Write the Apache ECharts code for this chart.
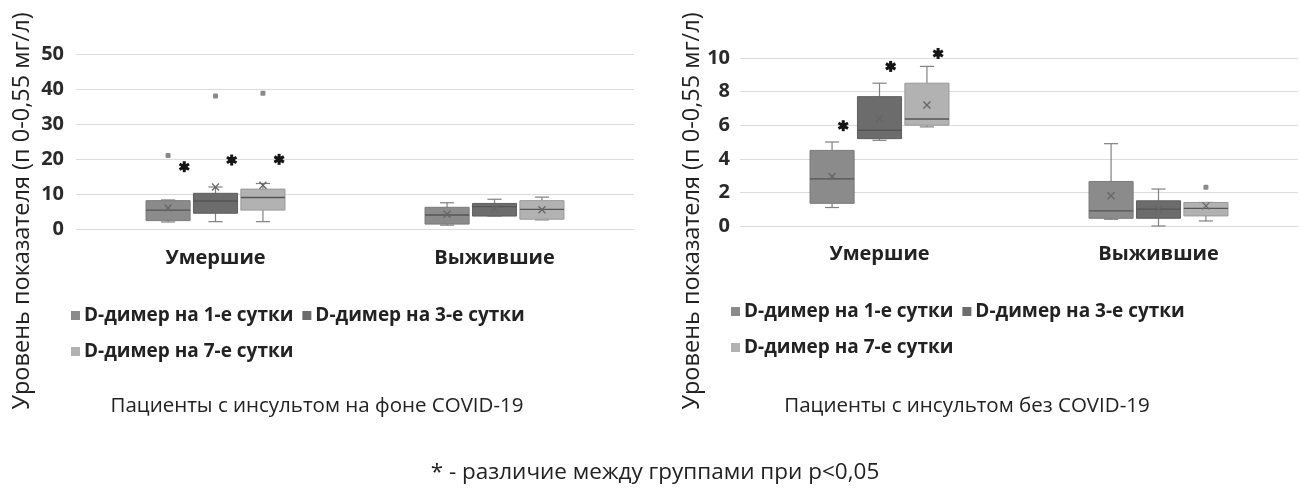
<!DOCTYPE html>
<html><head><meta charset="utf-8">
<script src="https://cdn.jsdelivr.net/npm/echarts@6/dist/echarts.min.js"></script>
<style>html,body{margin:0;padding:0;background:#fff}#c{width:1300px;height:492px}</style>
</head><body><div id="c"></div>
<script>
const categories = ['Умершие', 'Выжившие'];
const seriesNames = ['D-димер на 1-е сутки', 'D-димер на 3-е сутки', 'D-димер на 7-е сутки'];
const leftYTicks = [0, 10, 20, 30, 40, 50];
const rightYTicks = [0, 2, 4, 6, 8, 10];

// [min, Q1, median, Q3, max] per category (Умершие, Выжившие)
const covidDay1 = [[2.0, 2.4, 5.4, 8.1, 8.3], [1.1, 1.4, 4.0, 6.2, 7.5]];
const covidDay3 = [[2.1, 4.5, 8.0, 10.2, 12.0], [3.7, 3.7, 6.4, 7.3, 8.5]];
const covidDay7 = [[2.1, 5.4, 9.0, 11.4, 13.0], [2.6, 2.8, 5.6, 8.1, 9.1]];
const covidMeans = [[6.0, 4.2], [12.0, 5.8], [12.5, 5.5]];
const covidOutliers = [[0, 21.0, 0], [0, 38.0, 1], [0, 38.8, 2]]; // [category, value, day]
const covidStars = [[0, 17.8, 0], [0, 19.7, 1], [0, 19.9, 2]];

const nonCovidDay1 = [[1.1, 1.35, 2.8, 4.5, 5.0], [0.4, 0.46, 0.9, 2.65, 4.9]];
const nonCovidDay3 = [[5.1, 5.2, 5.7, 7.7, 8.5], [0.0, 0.46, 1.0, 1.5, 2.2]];
const nonCovidDay7 = [[5.9, 6.0, 6.37, 8.5, 9.5], [0.3, 0.6, 1.05, 1.4, 1.4]];
const nonCovidMeans = [[2.95, 1.8], [6.4, 1.0], [7.2, 1.2]];
const nonCovidOutliers = [[1, 2.3, 2]];
const nonCovidStars = [[0, 5.97, 0], [0, 9.5, 1], [0, 10.27, 2]];

const fills = ['#8b8b8b', '#6c6c6c', '#b2b2b2'];
const borders = ['#7a7a7a', '#5e5e5e', '#999999'];
const FONT = '"Open Sans", sans-serif';
const STEP = 0.17, BOXW = 0.158;

function boxSeries(day, boxes, means, gi) {
  const data = boxes.map((b, i) => [i].concat(b).concat([means[day][i]]));
  return {
    type: 'custom', name: seriesNames[day], xAxisIndex: gi, yAxisIndex: gi,
    itemStyle: { color: fills[day] },
    data: data,
    renderItem: function (params, api) {
      const cat = api.value(0);
      const band = api.size([1, 0])[0];
      const cx = api.coord([cat, 0])[0] + (day - 1) * band * STEP;
      const w = band * BOXW;
      const y = v => api.coord([cat, v])[1];
      const mn = y(api.value(1)), q1 = y(api.value(2)), md = y(api.value(3)), q3 = y(api.value(4)), mx = y(api.value(5)), mean = y(api.value(6));
      const lc = '#808080';
      const cap = w * 0.32;
      const ln = (x1, y1, x2, y2, col, lw) => ({ type: 'line', shape: { x1, y1, x2, y2 }, style: { stroke: col || lc, lineWidth: lw || 1.2 } });
      const m = 3.5;
      return {
        type: 'group', children: [
          ln(cx, mx, cx, q3), ln(cx - cap / 2, mx, cx + cap / 2, mx),
          ln(cx, q1, cx, mn), ln(cx - cap / 2, mn, cx + cap / 2, mn),
          { type: 'rect', shape: { x: cx - w / 2, y: q3, width: w, height: q1 - q3 }, style: { fill: fills[day], stroke: borders[day], lineWidth: 1 } },
          ln(cx - w / 2, md, cx + w / 2, md, '#555', 1.3),
          ln(cx - m, mean - m, cx + m, mean + m, '#666', 1.3),
          ln(cx - m, mean + m, cx + m, mean - m, '#666', 1.3)
        ]
      };
    }
  };
}

function pointSeries(points, gi, kind, starShift) {
  return {
    type: 'custom', name: kind, xAxisIndex: gi, yAxisIndex: gi, data: points, z: 5,
    renderItem: function (params, api) {
      const cat = api.value(0), day = api.value(2);
      const band = api.size([1, 0])[0];
      let cx = api.coord([cat, 0])[0] + (day - 1) * band * STEP;
      const cy = api.coord([cat, api.value(1)])[1];
      if (kind === 'outlier') {
        return { type: 'rect', shape: { x: cx - 2.5, y: cy - 2.5, width: 5, height: 5, r: 1 }, style: { fill: '#8a8a8a' } };
      }
      cx += band * starShift;
      const arms = [];
      for (let k = 0; k < 3; k++) {
        const a = k * Math.PI / 3 + Math.PI / 2;
        const dx = Math.cos(a) * 5.5, dy = Math.sin(a) * 5.5;
        arms.push({ type: 'line', shape: { x1: cx - dx, y1: cy - dy, x2: cx + dx, y2: cy + dy }, style: { stroke: '#151515', lineWidth: 3 } });
      }
      arms.push({ type: 'circle', shape: { cx: cx, cy: cy, r: 3.2 }, style: { fill: '#151515' } });
      return { type: 'group', children: arms };
    }
  };
}

function yAxis(gi, ticks, margin) {
  return {
    type: 'value', gridIndex: gi, min: ticks[0], max: ticks[ticks.length - 1], interval: ticks[1] - ticks[0],
    axisLine: { show: false }, axisTick: { show: false },
    splitLine: { lineStyle: { color: '#dcdcdc', width: 1 } },
    axisLabel: { fontFamily: FONT, fontWeight: 'bold', fontSize: 20, color: '#2a2a2a', margin: margin }
  };
}
function xAxis(gi, margin) {
  return {
    type: 'category', gridIndex: gi, data: categories,
    axisLine: { lineStyle: { color: '#dcdcdc' } }, axisTick: { show: false },
    axisLabel: { fontFamily: FONT, fontWeight: 'bold', fontSize: 20, color: '#222', margin: margin }
  };
}
function legend(left, top) {
  return {
    data: seriesNames, left: left, top: top, width: 540, itemGap: 9, itemWidth: 9, itemHeight: 9,
    icon: 'rect', orient: 'horizontal', selectedMode: false,
    textStyle: { fontFamily: FONT, fontWeight: 'bold', fontSize: 19, color: '#222', lineHeight: 27, padding: [0, 0, 0, -1] }
  };
}
const yName = 'Уровень показателя (п 0-0,55 мг/л)';
const txt = (size) => ({ fontFamily: FONT, fontWeight: 'normal', fontSize: size, color: '#222' });

const chart = echarts.init(document.getElementById('c'), null, { renderer: 'canvas' });
chart.setOption({
  animation: false,
  backgroundColor: '#fff',
  grid: [
    { left: 76, right: 666, top: 54, bottom: 263 },
    { left: 740, right: 2, top: 58, bottom: 266 }
  ],
  xAxis: [xAxis(0, 19), xAxis(1, 18)],
  yAxis: [yAxis(0, leftYTicks, 12), yAxis(1, rightYTicks, 10)],
  legend: [legend(66, 297), legend(726, 293)],
  title: [
    { text: 'Пациенты с инсультом на фоне COVID-19', left: 312, top: 391, textAlign: 'center', textStyle: txt(20.5) },
    { text: 'Пациенты с инсультом без COVID-19', left: 962, top: 391, textAlign: 'center', textStyle: txt(20.5) },
    { text: '* - различие между группами при p<0,05', left: 650, top: 456, textAlign: 'center', textStyle: txt(22.5) }
  ],
  graphic: [
    { type: 'text', x: 22, y: 211, rotation: Math.PI / 2, style: { text: yName, font: '23.5px "Open Sans", sans-serif', fill: '#222', align: 'center', verticalAlign: 'middle' } },
    { type: 'text', x: 692, y: 211, rotation: Math.PI / 2, style: { text: yName, font: '23.5px "Open Sans", sans-serif', fill: '#222', align: 'center', verticalAlign: 'middle' } }
  ],
  series: [
    boxSeries(0, covidDay1, covidMeans, 0),
    boxSeries(1, covidDay3, covidMeans, 0),
    boxSeries(2, covidDay7, covidMeans, 0),
    pointSeries(covidOutliers, 0, 'outlier'),
    pointSeries(covidStars, 0, 'star', 0.058),
    boxSeries(0, nonCovidDay1, nonCovidMeans, 1),
    boxSeries(1, nonCovidDay3, nonCovidMeans, 1),
    boxSeries(2, nonCovidDay7, nonCovidMeans, 1),
    pointSeries(nonCovidOutliers, 1, 'outlier'),
    pointSeries(nonCovidStars, 1, 'star', 0.04)
  ]
});
</script></body></html>
